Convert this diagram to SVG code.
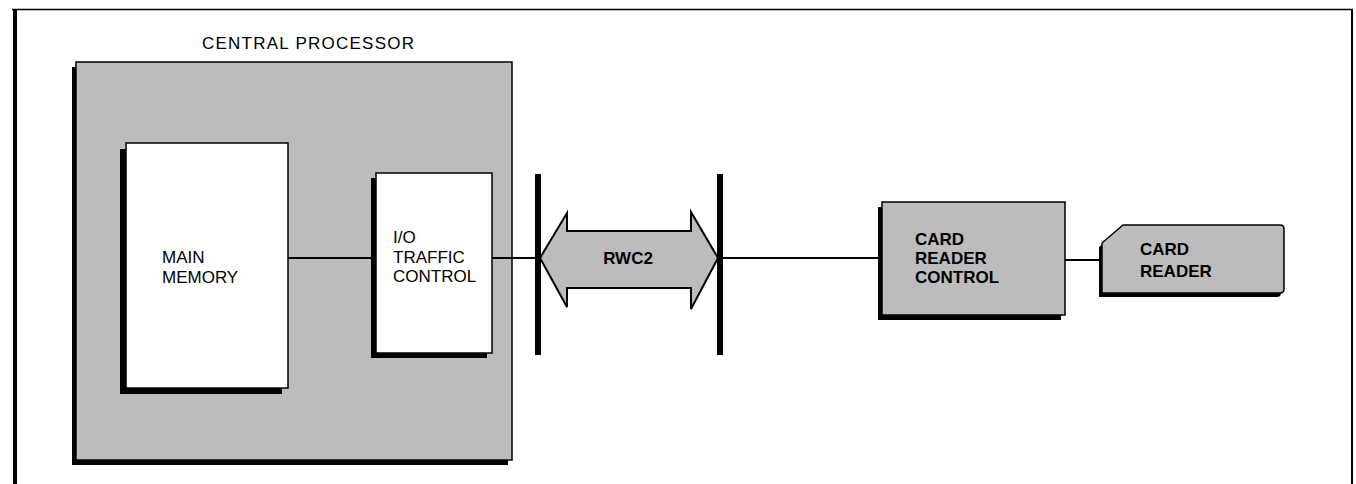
<svg xmlns="http://www.w3.org/2000/svg" width="1356" height="484" viewBox="0 0 1356 484">
<style>
.lbl{font-family:"Liberation Sans",Arial,sans-serif;font-size:17px;fill:#000}
.gray{fill:#bcbcbc;stroke:#000;stroke-width:1.5}
.white{fill:#fff;stroke:#000;stroke-width:1.5}
.shadow{fill:#000}
.wire{stroke:#000;stroke-width:2;fill:none}
</style>
<rect width="1356" height="484" fill="#fff"/>
<g id="frame">
<line x1="12" y1="9.5" x2="1353" y2="9.5" stroke="#000" stroke-width="1.5"/>
<line x1="15" y1="9" x2="15" y2="484" stroke="#000" stroke-width="4"/>
<line x1="1352" y1="9" x2="1352" y2="484" stroke="#000" stroke-width="2"/>
</g>
<g id="central-processor">
<text class="lbl" x="202" y="49" font-size="16" textLength="212" lengthAdjust="spacing">CENTRAL PROCESSOR</text>
<rect class="shadow" x="72" y="67" width="436" height="398"/>
<rect class="gray" x="76" y="62" width="436" height="398"/>
</g>
<g id="main-memory">
<rect class="shadow" x="120" y="149" width="162" height="245"/>
<rect class="white" x="126" y="143" width="162" height="245"/>
<text class="lbl" x="162" y="263">MAIN</text>
<text class="lbl" x="162" y="283">MEMORY</text>
</g>
<g id="io-traffic-control">
<rect class="shadow" x="371" y="178" width="116" height="180"/>
<rect class="white" x="376" y="173" width="116" height="180"/>
<text class="lbl" x="393" y="243">I/O</text>
<text class="lbl" x="393" y="263">TRAFFIC</text>
<text class="lbl" x="393" y="282">CONTROL</text>
</g>
<g id="connectors">
<line class="wire" x1="288" y1="258" x2="376" y2="258"/>
<line class="wire" x1="492" y1="258" x2="538" y2="258"/>
<line class="wire" x1="720" y1="258" x2="882" y2="258"/>
<line class="wire" x1="1065" y1="260" x2="1102" y2="260"/>
</g>
<g id="rwc2">
<rect x="535" y="174" width="6" height="181" fill="#000"/>
<rect x="717" y="174" width="6" height="181" fill="#000"/>
<polygon points="540,258 567,213 567,231 691,231 691,212 718,258 691,309 691,288 567,288 567,307" fill="#bcbcbc" stroke="#000" stroke-width="2" stroke-linejoin="miter"/>
<text class="lbl" x="628" y="264" text-anchor="middle" font-weight="bold">RWC2</text>
</g>
<g id="card-reader-control">
<rect class="shadow" x="878" y="207" width="183" height="113"/>
<rect class="gray" x="882" y="202" width="183" height="113"/>
<text class="lbl" x="915" y="245" font-weight="bold">CARD</text>
<text class="lbl" x="915" y="264" font-weight="bold">READER</text>
<text class="lbl" x="915" y="283" font-weight="bold">CONTROL</text>
</g>
<g id="card-reader">
<path class="shadow" d="M1120,229 L1277,229 Q1281,229 1281,233 L1281,293 Q1281,297 1277,297 L1099,297 L1099,247 Z"/>
<path class="gray" d="M1123,225 L1280,225 Q1284,225 1284,229 L1284,289 Q1284,293 1280,293 L1102,293 L1102,243 Z"/>
<text class="lbl" x="1140" y="255" font-weight="bold">CARD</text>
<text class="lbl" x="1140" y="277" font-weight="bold">READER</text>
</g>
</svg>
